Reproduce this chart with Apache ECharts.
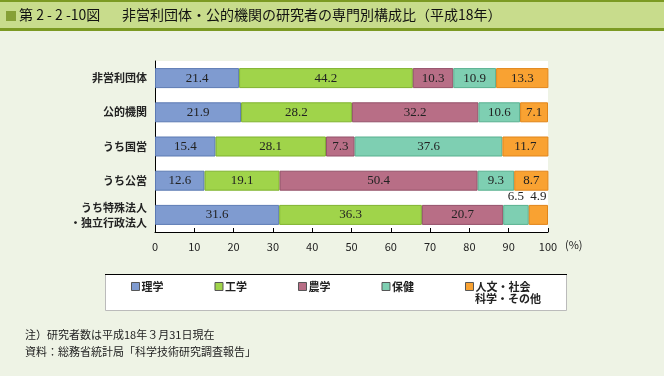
<!DOCTYPE html>
<html><head><meta charset="utf-8">
<script src="https://cdn.jsdelivr.net/npm/echarts@6/dist/echarts.min.js"></script>
<style>html,body{margin:0;padding:0;background:#eef3e5;}#c{width:664px;height:376px;}</style>
</head><body><div id="c"></div>
<script>
const categories = ['非営利団体','公的機関','うち国営','うち公営','うち特殊法人\n・独立行政法人'];
const seriesNames = ['理学','工学','農学','保健','人文・社会\n科学・その他'];
const rigaku = [21.4, 21.9, 15.4, 12.6, 31.6];
const kogaku = [44.2, 28.2, 28.1, 19.1, 36.3];
const nogaku = [10.3, 32.2, 7.3, 50.4, 20.7];
const hoken = [10.9, 10.6, 37.6, 9.3, 6.5];
const jinbun = [13.3, 7.1, 11.7, 8.7, 4.9];
const xTicks = [0,10,20,30,40,50,60,70,80,90,100];

const fills = ['#7f9bd0','#a0d44a','#b86e86','#7ecfb2','#f9a232'];
const borders = ['#5c7ab3','#7fb22e','#935068','#58b08f','#e0851a'];
const allData = [rigaku, kogaku, nogaku, hoken, jinbun];

const labelFont = {fontFamily:'"Liberation Serif", "DejaVu Serif", serif', fontSize:13, color:'#222'};
const jp = '"Noto Sans CJK JP", sans-serif';

const series = allData.map((d, si) => ({
  name: seriesNames[si],
  type: 'bar',
  stack: 'total',
  barWidth: 20,
  data: d.map((v, ci) => {
    const outside = (ci === 4 && si >= 3);
    return {
      value: v,
      label: outside ? {show:true, position:'top', distance:2, ...labelFont} : {show:true, position:'inside', ...labelFont}
    };
  }),
  itemStyle: {color: fills[si], borderColor: borders[si], borderWidth: 1},
  label: {formatter: p => p.value.toFixed(1)}
}));

const chart = echarts.init(document.getElementById('c'), null, {renderer:'canvas'});
chart.setOption({
  backgroundColor: '#eef3e5',
  animation: false,
  grid: {left:155, right:116, top:61, bottom:144, show:true, backgroundColor:'#ffffff', borderWidth:0},
  xAxis: {
    type:'value', min:0, max:100, interval:10,
    axisLine:{show:true, lineStyle:{color:'#000', width:1}},
    axisTick:{show:true, inside:true, length:4, lineStyle:{color:'#000'}},
    splitLine:{show:false},
    axisLabel:{margin:9, fontFamily:jp, fontSize:11, color:'#222',
      formatter: v => xTicks.includes(v) ? String(v) : ''}
  },
  yAxis: {
    type:'category', data: categories, inverse:true,
    axisLine:{show:true, lineStyle:{color:'#000', width:1}},
    axisTick:{show:false},
    axisLabel:{margin:8, fontFamily:jp, fontSize:11, fontWeight:'bold', color:'#222', align:'right', lineHeight:15}
  },
  legend: {
    left:131, top:281, padding:0, itemWidth:8, itemHeight:8, itemGap:51,
    icon:'rect',
    data: seriesNames.map((n,i)=>({name:n, itemStyle:{color:fills[i], borderColor:'#555', borderWidth:1}})),
    formatter: n => n.split('\n')[0],
    textStyle:{fontFamily:jp, fontSize:11, fontWeight:'bold', color:'#222', padding:[0,0,0,-3]},
    selectedMode:false
  },
  graphic: [
    {type:'rect', shape:{x:0, y:0, width:664, height:31}, style:{fill:'#c8dc8c'}, z:-1},
    {type:'rect', shape:{x:0, y:0, width:664, height:2}, style:{fill:'#7c9a23'}},
    {type:'rect', shape:{x:0, y:28, width:664, height:3}, style:{fill:'#7c9a23'}},
    {type:'rect', shape:{x:6, y:11, width:10, height:10}, style:{fill:'#86a036'}},
    {type:'text', left:19, top:8, style:{text:'第 2 - 2 -10図', font:'14px "Noto Sans CJK JP", sans-serif', fill:'#111'}},
    {type:'text', left:122, top:8, style:{text:'非営利団体・公的機関の研究者の専門別構成比（平成18年）', font:'14px "Noto Sans CJK JP", sans-serif', fill:'#111'}},
    {type:'rect', shape:{x:105.5, y:274.5, width:461, height:36}, style:{fill:'#fff', stroke:'#bbb', lineWidth:1}, z:-1},
    {type:'line', shape:{x1:105, y1:274.5, x2:567, y2:274.5}, style:{stroke:'#000', lineWidth:1}},
    {type:'text', left:475, top:293, style:{text:'科学・その他', font:'bold 11px "Noto Sans CJK JP", sans-serif', fill:'#222'}},
    {type:'text', left:565, top:239, style:{text:'(%)', font:'11px "Noto Sans CJK JP", sans-serif', fill:'#222'}},
    {type:'text', left:25, top:329, style:{text:'注）研究者数は平成18年３月31日現在', font:'11px "Noto Sans CJK JP", sans-serif', fill:'#222'}},
    {type:'text', left:25, top:346, style:{text:'資料：総務省統計局「科学技術研究調査報告」', font:'11px "Noto Sans CJK JP", sans-serif', fill:'#222'}}
  ],
  series: series
});
</script></body></html>
